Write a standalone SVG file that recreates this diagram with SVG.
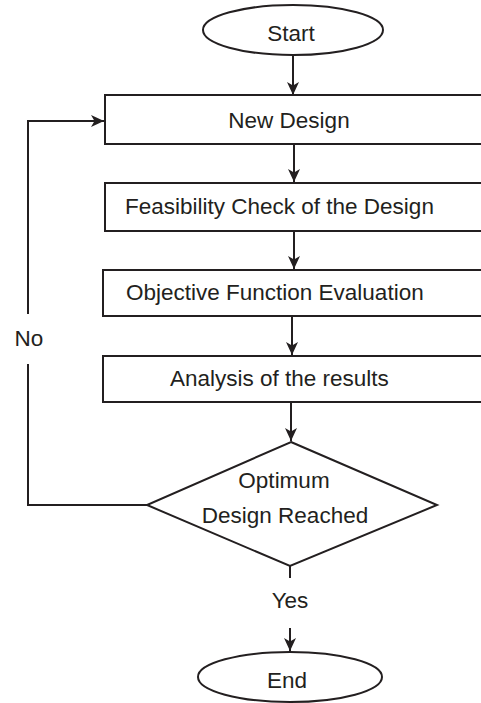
<svg xmlns="http://www.w3.org/2000/svg" width="481" height="703" viewBox="0 0 481 703">
<style>
.s{fill:#fff;stroke:#231f20;stroke-width:2}
.c{fill:none;stroke:#231f20;stroke-width:2}
text{font-family:"Liberation Sans",Arial,sans-serif;font-size:22.5px;fill:#231f20}
.m{text-anchor:middle}
</style>
<defs>
<marker id="ah" markerUnits="userSpaceOnUse" markerWidth="14" markerHeight="14" viewBox="0 0 14 14" refX="13" refY="7" orient="auto">
<path d="M0,1 L13,7 L0,13 L3.5,7 z" fill="#231f20"/>
</marker>
</defs>
<rect width="481" height="703" fill="#fff"/>
<g id="connectors">
<line class="c" x1="293" y1="55" x2="293" y2="95" marker-end="url(#ah)"/>
<line class="c" x1="294" y1="144" x2="294" y2="182" marker-end="url(#ah)"/>
<line class="c" x1="294" y1="231" x2="294" y2="269" marker-end="url(#ah)"/>
<line class="c" x1="292" y1="316" x2="292" y2="355" marker-end="url(#ah)"/>
<line class="c" x1="291" y1="402" x2="291" y2="441" marker-end="url(#ah)"/>
<polyline class="c" points="147,505 28,505 28,364"/>
<polyline class="c" points="28,314 28,121 104,121" marker-end="url(#ah)"/>
<line class="c" x1="290" y1="566" x2="290" y2="578"/>
<line class="c" x1="290" y1="628" x2="290" y2="651" marker-end="url(#ah)"/>
<text x="29" y="346" class="m">No</text>
<text x="290" y="608" class="m">Yes</text>
</g>
<g id="start">
<ellipse class="s" cx="293" cy="30" rx="90" ry="25"/>
<text x="291" y="41" class="m">Start</text>
</g>
<g id="new-design">
<rect class="s" x="105" y="95" width="390" height="49"/>
<text x="289" y="128" class="m">New Design</text>
</g>
<g id="feasibility">
<rect class="s" x="105" y="183" width="390" height="48"/>
<text x="125" y="214">Feasibility Check of the Design</text>
</g>
<g id="objective">
<rect class="s" x="103" y="270" width="390" height="46"/>
<text x="126" y="300">Objective Function Evaluation</text>
</g>
<g id="analysis">
<rect class="s" x="103" y="356" width="390" height="46"/>
<text x="170" y="386">Analysis of the results</text>
</g>
<g id="decision">
<polygon class="s" points="291,442 437,505 290,566 147,505"/>
<text x="284" y="488" class="m">Optimum</text>
<text x="285" y="523" class="m">Design Reached</text>
</g>
<g id="end">
<ellipse class="s" cx="290" cy="677" rx="92" ry="25"/>
<text x="287" y="688" class="m">End</text>
</g>
</svg>
